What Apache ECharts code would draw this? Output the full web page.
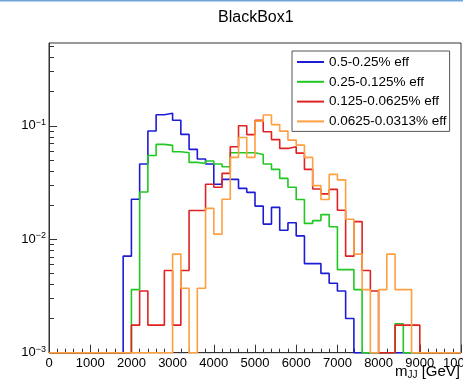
<!DOCTYPE html>
<html><head><meta charset="utf-8">
<script src="https://cdn.jsdelivr.net/npm/echarts@6/dist/echarts.min.js"></script>
<style>html,body{margin:0;padding:0;background:#fff}#c{width:463px;height:381px}</style>
</head><body><div id="c"></div>
<script>
// ---- data (bin width 200 GeV, 50 bins from 0 to 10000) ----
const binWidth = 200;
const nBins = 50;
const seriesNames = ['0.5-0.25% eff', '0.25-0.125% eff', '0.125-0.0625% eff', '0.0625-0.0313% eff'];
const seriesColors = ['#1c1cd6', '#22c822', '#e02222', '#ffa040'];
const blueVals = [0,0,0,0,0,0,0,0,0,
  0.0071,0.0225,0.046,0.090,0.125,0.129,0.112,0.084,0.062,0.051,0.046,
  0.0305,0.0337,0.0337,0.0281,0.0259,0.0196,0.0136,0.0191,0.0120,0.0140,
  0.0107,0.0061,0.0061,0.0050,0.0041,0.0035,0.0020,
  0,0,0,0,0,0,0,0,0,0,0,0,0];
const greenVals = [0,0,0,0,0,0,0,0,0,0,
  0.0036,0.0261,0.0548,0.0686,0.0672,0.0590,0.0578,0.0476,0.0466,0.0489,
  0.0460,0.0435,0.0578,0.0578,0.0578,0.0558,0.0460,0.0413,0.0344,0.0287,
  0.0224,0.0138,0.0146,0.0165,0.0129,0.0054,0.0054,0.0036,
  0,0,0,0,0.0018,0,0,0,0,0,0,0];
const redVals = [0,0,0,0,0,0,0,0,0,0,
  0.00175,0.0035,0.00175,0.00175,0.0053,0.00175,0.0053,0.0179,0.0179,0.0305,
  0.0287,0.0381,0.0653,0.100,0.0837,0.112,0.0886,0.0756,0.0632,0.0653,
  0.0575,0.0413,0.0277,0.0251,0.0275,0.0180,0.0071,0.0143,0.0053,0.0035,
  0,0,0.00175,0.00175,0.00175,0,0,0,0,0];
const orangeVals = [0,0,0,0,0,0,0,0,0,0,0,0,0,0,0,
  0.0074,0.0037,0,0.0037,0.0187,0.0111,0.0225,0.0527,0.079,0.0527,
  0.110,0.1247,0.1025,0.0898,0.0748,0.0676,0.0527,0.0297,0.0224,0.0373,
  0.0334,0.0150,0.0074,0.0036,0,0.0036,0.0074,0.0036,0.0036,
  0,0,0,0,0,0];
const allVals = [blueVals, greenVals, redVals, orangeVals];
const yMin = 0.001, yMax = 0.537;
const yMajorTicks = [0.001, 0.01, 0.1];
const yMinorTicks = [0.002,0.003,0.004,0.005,0.006,0.007,0.008,0.009,
  0.02,0.03,0.04,0.05,0.06,0.07,0.08,0.09,0.2,0.3,0.4,0.5];

const FONT = 'Liberation Sans, Arial, Helvetica, sans-serif';

function toSteps(vals) {
  const pts = vals.map((v, i) => [i * binWidth, v > 0 ? v : yMin]);
  const last = vals[vals.length - 1];
  pts.push([nBins * binWidth, last > 0 ? last : yMin]);
  return pts;
}

const chart = echarts.init(document.getElementById('c'), null, {renderer: 'canvas'});
const yAxisCommon = {
  type: 'log', logBase: 10, min: yMin, max: yMax, position: 'left', gridIndex: 0,
  splitLine: {show: false}
};
chart.setOption({
  animation: false,
  backgroundColor: '#fff',
  graphic: [{type: 'rect', shape: {x: 0, y: 0, width: 463, height: 1.5}, style: {fill: '#6ea6dc'}}],
  title: {
    text: 'BlackBox1', left: 218, top: 10, padding: 0,
    textStyle: {fontSize: 16, fontWeight: 'normal', fontFamily: FONT, color: '#000'}
  },
  grid: {left: 49, right: 2, top: 43, bottom: 28.3, containLabel: false, outerBoundsMode: 'none',
    show: true, borderColor: '#333', borderWidth: 1, backgroundColor: 'transparent'},
  legend: {
    orient: 'vertical', left: 292, top: 51,
    icon: 'rect', itemWidth: 27, itemHeight: 2, itemGap: 5.8,
    padding: [4, 3, 3, 5],
    backgroundColor: '#fff', borderColor: '#555', borderWidth: 1, borderRadius: 0,
    textStyle: {fontSize: 13.5, color: '#000', fontFamily: FONT, lineHeight: 14},
    data: seriesNames
  },
  xAxis: {
    type: 'value', min: 0, max: 10000, interval: 1000,
    axisLine: {lineStyle: {color: '#333', width: 1}},
    axisTick: {inside: true, length: 8, lineStyle: {color: '#333'}},
    minorTick: {show: true, splitNumber: 5, length: 4, lineStyle: {color: '#333'}},
    splitLine: {show: false},
    axisLabel: {fontSize: 13, color: '#000', fontFamily: FONT, margin: 4,
      showMinLabel: true, showMaxLabel: true, hideOverlap: false,
      formatter: function (v) { return String(v); }},
    name: '{a|m}{s|JJ}{a| [GeV]}', nameLocation: 'end', nameGap: -1,
    nameMoveOverlap: false,
    nameTextStyle: {align: 'right', verticalAlign: 'top', padding: [10, 0, 0, 0],
      rich: {a: {fontSize: 15, fontFamily: FONT, color: '#000', lineHeight: 18},
             s: {fontSize: 10, fontFamily: FONT, color: '#000', verticalAlign: 'bottom', lineHeight: 10}}}
  },
  yAxis: [
    Object.assign({}, yAxisCommon, {
      axisLine: {show: true, lineStyle: {color: '#333', width: 1}},
      axisTick: {show: true, inside: true, length: 8, lineStyle: {color: '#333'}, customValues: yMajorTicks},
      axisLabel: {
        show: true, margin: 3, customValues: yMajorTicks,
        formatter: function (v) {
          const e = Math.round(Math.log10(v));
          return '{b|10}{s|' + String(e).replace('-', '\u2212') + '}';
        },
        rich: {
          b: {fontSize: 13, fontFamily: FONT, color: '#000', lineHeight: 16},
          s: {fontSize: 9, fontFamily: FONT, color: '#000', verticalAlign: 'top', lineHeight: 10}
        }
      }
    }),
    Object.assign({}, yAxisCommon, {
      axisLine: {show: false},
      axisTick: {show: true, inside: true, length: 5, lineStyle: {color: '#333'}, customValues: yMinorTicks},
      axisLabel: {show: false}
    })
  ],
  series: seriesNames.map((name, k) => ({
    type: 'line', name: name, data: toSteps(allVals[k]), step: 'end',
    symbol: 'none', showSymbol: false, clip: false, yAxisIndex: 0,
    lineStyle: {color: seriesColors[k], width: 1.6},
    itemStyle: {color: seriesColors[k]}
  }))
});
</script></body></html>
